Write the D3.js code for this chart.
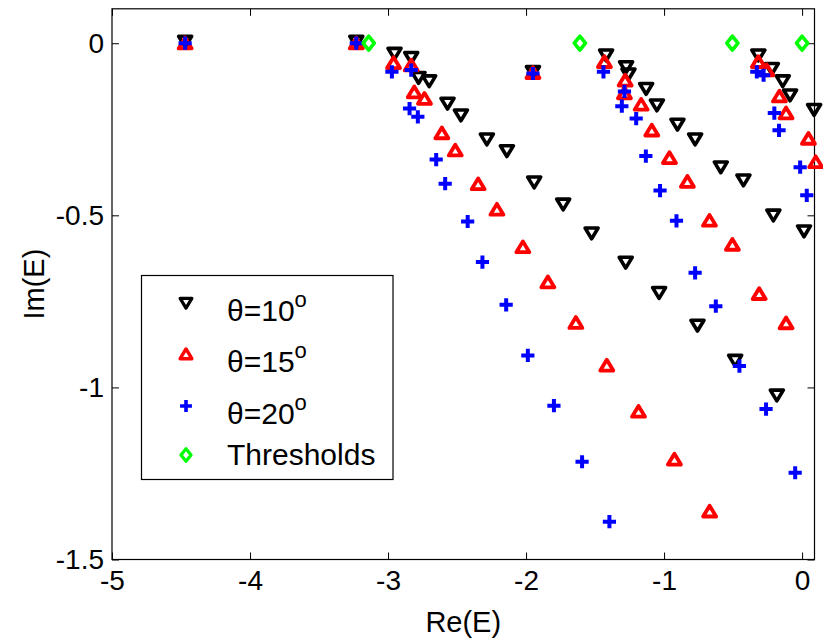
<!DOCTYPE html>
<html>
<head>
<meta charset="utf-8">
<script src="https://cdn.jsdelivr.net/npm/d3@7"></script>
<style>
  body { margin: 0; background: #fff; }
  text { font-family: "Liberation Sans", Arial, Helvetica, sans-serif; }
</style>
</head>
<body>
<svg id="chart" width="823" height="639"></svg>
<script>
// Axis ticks
const xTicks = [-5, -4, -3, -2, -1, 0];
const yTicks = [0, -0.5, -1, -1.5];

// Resonance poles, theta = 10 degrees
const theta10Re = [-4.47, -3.23, -1.95,
  -2.953, -2.832, -2.779, -2.702, -2.569, -2.472, -2.284, -2.139, -1.941, -1.731, -1.525, -1.278, -1.036, -0.758, -0.485, -0.183,
  -1.420, -1.275, -1.258, -1.130, -1.052, -0.903, -0.775, -0.589, -0.425, -0.208, 0.014,
  -0.317, -0.219, -0.140, -0.087, 0.087];
const theta10Im = [0.005, 0.005, -0.083,
  -0.030, -0.042, -0.100, -0.110, -0.175, -0.209, -0.279, -0.313, -0.404, -0.468, -0.552, -0.637, -0.725, -0.820, -0.922, -1.023,
  -0.035, -0.069, -0.090, -0.132, -0.180, -0.236, -0.279, -0.360, -0.398, -0.500, -0.546,
  -0.035, -0.074, -0.110, -0.151, -0.193];

// Resonance poles, theta = 15 degrees
const theta15Re = [-4.47, -3.23, -1.95,
  -2.960, -2.832, -2.810, -2.736, -2.610, -2.513, -2.347, -2.211, -2.023, -1.842, -1.639, -1.415, -1.185, -0.925, -0.670,
  -1.432, -1.282, -1.287, -1.166, -1.089, -0.961, -0.831, -0.671, -0.505, -0.311, -0.116,
  -0.317, -0.256, -0.164, -0.116, 0.046, 0.099];
const theta15Im = [0.0, 0.0, -0.086,
  -0.057, -0.064, -0.142, -0.161, -0.261, -0.311, -0.409, -0.483, -0.592, -0.694, -0.812, -0.936, -1.070, -1.209, -1.360,
  -0.054, -0.108, -0.145, -0.178, -0.253, -0.333, -0.402, -0.515, -0.585, -0.728, -0.813,
  -0.054, -0.078, -0.154, -0.203, -0.277, -0.345];

// Resonance poles, theta = 20 degrees
const theta20Re = [-4.47, -3.23, -1.95,
  -2.972, -2.832, -2.844, -2.784, -2.651, -2.586, -2.423, -2.316, -2.144, -1.987, -1.798, -1.594, -1.396,
  -1.439, -1.287, -1.306, -1.202, -1.132, -1.029, -0.910, -0.775, -0.625, -0.454, -0.261, -0.050,
  -0.328, -0.279, -0.201, -0.167, -0.014, 0.034];
const theta20Im = [0.0, 0.0, -0.088,
  -0.083, -0.078, -0.190, -0.214, -0.338, -0.408, -0.518, -0.636, -0.760, -0.907, -1.053, -1.216, -1.390,
  -0.083, -0.140, -0.183, -0.219, -0.328, -0.428, -0.516, -0.667, -0.764, -0.938, -1.063, -1.248,
  -0.083, -0.093, -0.203, -0.253, -0.360, -0.442];

// Thresholds on the real axis
const thresholdRe = [-3.14, -1.61, -0.505, 0.0];
const thresholdIm = [0, 0, 0, 0];

const seriesNames = ["θ=10", "θ=15", "θ=20", "Thresholds"];

const svg = d3.select("#chart");
const plotLeft = 112, plotRight = 814.5, plotTop = 8.8, plotBottom = 559.5;

const x = d3.scaleLinear().domain([-5, 0.09]).range([plotLeft, plotRight]);
const y = d3.scaleLinear().domain([-1.5, 0.1]).range([plotBottom, plotTop]);

// Marker shapes (centred on the data point)
const shapes = {
  down: "M0,5.6L6.5,-5.2L-6.5,-5.2Z",
  up: "M0,-5.6L6.5,5.2L-6.5,5.2Z",
  plus: "M-6.6,0H6.6M0,-6.6V6.6",
  diamond: "M0,-7L5.6,0L0,7L-5.6,0Z"
};
const styles = [
  { shape: "down", color: "#000000", width: 3.6 },
  { shape: "up", color: "#ff0000", width: 3.8 },
  { shape: "plus", color: "#0000ff", width: 4 },
  { shape: "diamond", color: "#00ff00", width: 3.6 }
];

// Axes box and inward ticks
const fs = 28;
const axB = d3.axisBottom(x).tickValues(xTicks).tickFormat(d => String(d)).tickSizeInner(-7).tickSizeOuter(0).tickPadding(11);
const axT = d3.axisTop(x).tickValues(xTicks).tickFormat("").tickSizeInner(-7).tickSizeOuter(0);
const axL = d3.axisLeft(y).tickValues(yTicks).tickFormat(d => String(d)).tickSizeInner(-7).tickSizeOuter(0).tickPadding(8);
const axR = d3.axisRight(y).tickValues(yTicks).tickFormat("").tickSizeInner(-7).tickSizeOuter(0);

function styleAxis(g) {
  g.select(".domain").remove();
  g.selectAll(".tick line").attr("stroke", "#000").attr("stroke-width", 1);
  g.selectAll(".tick text").attr("fill", "#000").style("font-size", fs + "px")
    .style("font-family", "'Liberation Sans', Arial, sans-serif");
}

svg.append("g").attr("transform", `translate(0,${plotBottom})`).call(axB).call(styleAxis);
svg.append("g").attr("transform", `translate(0,${plotTop})`).call(axT).call(styleAxis);
svg.append("g").attr("transform", `translate(${plotLeft},0)`).call(axL).call(styleAxis);
svg.append("g").attr("transform", `translate(${plotRight},0)`).call(axR).call(styleAxis);

svg.append("rect")
  .attr("x", plotLeft).attr("y", plotTop)
  .attr("width", plotRight - plotLeft).attr("height", plotBottom - plotTop)
  .attr("fill", "none").attr("stroke", "#000").attr("stroke-width", 1.2);

// Axis titles
svg.append("text").attr("x", (plotLeft + plotRight) / 2).attr("y", 632)
  .attr("text-anchor", "middle").style("font-size", "29px").text("Re(E)");
svg.append("text").attr("transform", `translate(44,${(plotTop + plotBottom) / 2}) rotate(-90)`)
  .attr("text-anchor", "middle").style("font-size", "29px").text("Im(E)");

// Data points
const data = [
  { re: theta10Re, im: theta10Im },
  { re: theta15Re, im: theta15Im },
  { re: theta20Re, im: theta20Im },
  { re: thresholdRe, im: thresholdIm }
];

data.forEach((s, i) => {
  const st = styles[i];
  const pts = s.re.map((r, k) => [r, s.im[k]]);
  svg.append("g").selectAll("path").data(pts).join("path")
    .attr("d", shapes[st.shape])
    .attr("transform", d => `translate(${x(d[0])},${y(d[1])})`)
    .attr("fill", "none")
    .attr("stroke", st.color)
    .attr("stroke-width", st.width)
    .attr("stroke-linejoin", "round");
});

// Legend
const lg = svg.append("g");
lg.append("rect").attr("x", 141.5).attr("y", 275.5).attr("width", 251.5).attr("height", 204)
  .attr("fill", "#fff").attr("stroke", "#000").attr("stroke-width", 1.2);
const rowY = [303, 354, 406, 455];
seriesNames.forEach((name, i) => {
  const st = styles[i];
  lg.append("path").attr("d", shapes[st.shape])
    .attr("transform", `translate(186,${rowY[i]}) scale(0.9)`)
    .attr("fill", "none").attr("stroke", st.color).attr("stroke-width", st.width)
    .attr("stroke-linejoin", "round");
  const t = lg.append("text").attr("x", 227).attr("y", rowY[i] + 11 + (i === 3 ? -1 : 7))
    .style("font-size", "30px");
  t.append("tspan").text(name);
  if (i < 3) {
    t.append("tspan").attr("dy", -14).style("font-size", "22px").text("o");
  }
});
</script>
</body>
</html>
